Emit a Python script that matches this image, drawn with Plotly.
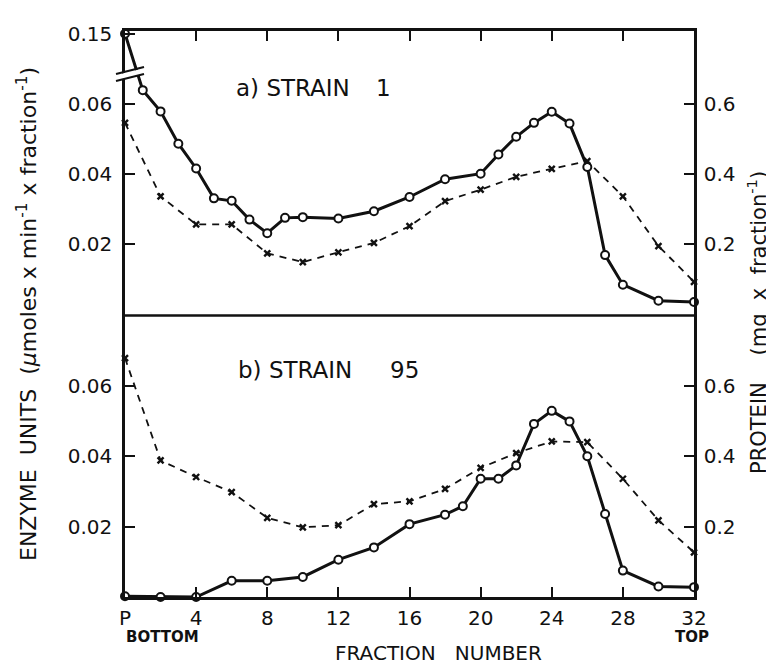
import plotly.graph_objects as go

# ---------------- data ----------------
fractions_a_enz = [0, 1, 2, 3, 4, 5, 6, 7, 8, 9, 10, 12, 14, 16, 18, 20, 21, 22, 23, 24, 25, 26, 27, 28, 30, 32]
enzyme_a = [0.15, 0.0641, 0.0580, 0.0487, 0.0416, 0.0330, 0.0323, 0.0269, 0.0230, 0.0274, 0.0276,
            0.0272, 0.0293, 0.0334, 0.0385, 0.0401, 0.0456, 0.0507, 0.0547, 0.0579, 0.0545, 0.0420,
            0.0167, 0.0082, 0.0036, 0.0032]
fractions_a_prot = [0, 2, 4, 6, 8, 10, 12, 14, 16, 18, 20, 22, 24, 26, 28, 30, 32]
protein_a = [0.547, 0.336, 0.255, 0.255, 0.172, 0.147, 0.175, 0.202, 0.250, 0.322, 0.355, 0.392,
             0.415, 0.437, 0.336, 0.193, 0.090]

fractions_b_enz = [0, 2, 4, 6, 8, 10, 12, 14, 16, 18, 19, 20, 21, 22, 23, 24, 25, 26, 27, 28, 30, 32]
enzyme_b = [0.0002, 0.0000, 0.0000, 0.0046, 0.0046, 0.0057, 0.0106, 0.0141, 0.0207, 0.0234, 0.0258,
            0.0336, 0.0336, 0.0374, 0.0492, 0.0529, 0.0499, 0.0400, 0.0236, 0.0075, 0.0030, 0.0028]
fractions_b_prot = [0, 2, 4, 6, 8, 10, 12, 14, 16, 18, 20, 22, 24, 26, 28, 30, 32]
protein_b = [0.679, 0.388, 0.341, 0.298, 0.225, 0.198, 0.204, 0.264, 0.272, 0.307, 0.367, 0.409,
             0.442, 0.440, 0.336, 0.218, 0.127]

x_tickvals = [0, 4, 8, 12, 16, 20, 24, 28, 32]
x_ticktext = ["P", "4", "8", "12", "16", "20", "24", "28", "32"]
enz_tickvals = [0.02, 0.04, 0.06]
enz_ticktext = ["0.02", "0.04", "0.06"]
prot_tickvals = [0.2, 0.4, 0.6]
prot_ticktext = ["0.2", "0.4", "0.6"]

# broken axis: values above BREAK_FROM are drawn at the position of the "0.15" tick
BREAK_FROM = 0.07
BREAK_POS = 0.0803
BREAK_LABEL = "0.15"

def broken(v):
    return BREAK_POS if v > BREAK_FROM else v

# ---------------- layout geometry ----------------
W, H = 774, 666
L, R, T, B = 117, 88, 23, 77
PW, PH = W - L - R, H - T - B
SPLIT = (589 - 307.5) / PH

def px(xp):
    return (xp - L) / PW

def py(yp):
    return (H - B - yp) / PH

FONT = "DejaVu Sans"
BLACK = "#111111"

fig = go.Figure()

enz_line = dict(color=BLACK, width=3)
enz_marker = dict(symbol="circle", size=8, color="white", line=dict(color=BLACK, width=2))
prot_line = dict(color=BLACK, width=1.8, dash="7px,6px")
prot_marker = dict(symbol="x-thin", size=6, color=BLACK, line=dict(color=BLACK, width=2.4))

# top panel (a)
fig.add_trace(go.Scatter(x=fractions_a_prot, y=protein_a, mode="lines+markers", line=prot_line,
                         marker=prot_marker, xaxis="x2", yaxis="y4", cliponaxis=False, showlegend=False))
fig.add_trace(go.Scatter(x=fractions_a_enz, y=[broken(v) for v in enzyme_a], mode="lines+markers",
                         line=enz_line, marker=enz_marker, xaxis="x2", yaxis="y2", cliponaxis=False,
                         showlegend=False))
# bottom panel (b)
fig.add_trace(go.Scatter(x=fractions_b_prot, y=protein_b, mode="lines+markers", line=prot_line,
                         marker=prot_marker, xaxis="x", yaxis="y3", cliponaxis=False, showlegend=False))
fig.add_trace(go.Scatter(x=fractions_b_enz, y=enzyme_b, mode="lines+markers", line=enz_line,
                         marker=enz_marker, xaxis="x", yaxis="y", cliponaxis=False, showlegend=False))

tickfont = dict(family=FONT, size=20, color=BLACK)
axis_common = dict(showline=True, linecolor=BLACK, linewidth=2.5, ticks="inside", ticklen=10,
                   tickwidth=2, tickcolor=BLACK, showgrid=False, zeroline=False, tickfont=tickfont)

top_range = [-0.00066, 0.0811]
bot_range = [0.0, 0.0800]

fig.update_layout(
    width=W, height=H, margin=dict(l=L, r=R, t=T, b=B),
    paper_bgcolor="white", plot_bgcolor="white",
    xaxis=dict(domain=[0, 1], anchor="y", range=[0, 32], tickvals=x_tickvals, ticktext=x_ticktext,
               ticklabelstandoff=1, **axis_common),
    yaxis=dict(domain=[0, SPLIT], anchor="x", range=bot_range, tickvals=enz_tickvals,
               ticktext=enz_ticktext, ticklabelstandoff=6, **axis_common),
    yaxis3=dict(overlaying="y", side="right", anchor="x", range=[v * 10 for v in bot_range],
                tickvals=prot_tickvals, ticktext=prot_ticktext, ticklabelstandoff=3, **axis_common),
    xaxis2=dict(domain=[0, 1], anchor="y2", side="top", range=[0, 32], tickvals=x_tickvals[1:-1],
                showticklabels=False, **axis_common),
    yaxis2=dict(domain=[SPLIT, 1], anchor="x2", range=top_range,
                tickvals=enz_tickvals + [BREAK_POS], ticktext=enz_ticktext + [BREAK_LABEL],
                ticklabelstandoff=6, **axis_common),
    yaxis4=dict(overlaying="y2", side="right", anchor="x2", range=[v * 10 for v in top_range],
                tickvals=prot_tickvals, ticktext=prot_ticktext, ticklabelstandoff=3, **axis_common),
)

shapes = []
# divider between panels
shapes.append(dict(type="line", xref="paper", yref="paper", x0=0, x1=1, y0=SPLIT, y1=SPLIT,
                   line=dict(color=BLACK, width=2.5), layer="above"))
# axis break marks
gap = "M {:.5f} {:.5f} L {:.5f} {:.5f} L {:.5f} {:.5f} L {:.5f} {:.5f} Z".format(
    px(108), py(67), px(137), py(60), px(137), py(65.5), px(108), py(72.5))
shapes.append(dict(type="path", xref="paper", yref="paper", path=gap, fillcolor="white",
                   line=dict(width=0), layer="above"))
for y0, y1 in [(66, 59), (73, 66)]:
    shapes.append(dict(type="line", xref="paper", yref="paper", x0=px(108), y0=py(y0),
                       x1=px(136), y1=py(y1), line=dict(color=BLACK, width=2), layer="above"))
fig.update_layout(shapes=shapes)

ann_font = dict(family=FONT, size=23, color=BLACK)
anns = [
    dict(text="a) STRAIN", x=px(226), y=py(80), xanchor="left", yanchor="middle"),
    dict(text="1", x=px(375), y=py(80), xanchor="center", yanchor="middle"),
    dict(text="b) STRAIN", x=px(228), y=py(362), xanchor="left", yanchor="middle"),
    dict(text="95", x=px(396), y=py(362), xanchor="center", yanchor="middle"),
    dict(text="FRACTION   NUMBER", x=px(430), y=py(645), xanchor="center", yanchor="middle",
         font=dict(family=FONT, size=20, color=BLACK)),
    dict(text="<b>BOTTOM</b>", x=px(116), y=py(629), xanchor="left", yanchor="middle",
         font=dict(family=FONT, size=15, color=BLACK)),
    dict(text="<b>TOP</b>", x=px(684), y=py(629), xanchor="center", yanchor="middle",
         font=dict(family=FONT, size=15, color=BLACK)),
    dict(text="ENZYME  UNITS  (<i>μ</i>moles x min<sup>-1</sup> x fraction<sup>-1</sup>)",
         x=px(19), y=py(306), xanchor="center", yanchor="middle", textangle=-90,
         font=dict(family=FONT, size=22, color=BLACK)),
    dict(text="PROTEIN    (mg  x  fraction<sup>-1</sup>)", x=px(749), y=py(315), xanchor="center",
         yanchor="middle", textangle=-90, font=dict(family=FONT, size=21, color=BLACK)),
]
for a in anns:
    a.setdefault("font", ann_font)
    a.update(xref="paper", yref="paper", showarrow=False)
fig.update_layout(annotations=anns)

fig.write_html("out.html")
